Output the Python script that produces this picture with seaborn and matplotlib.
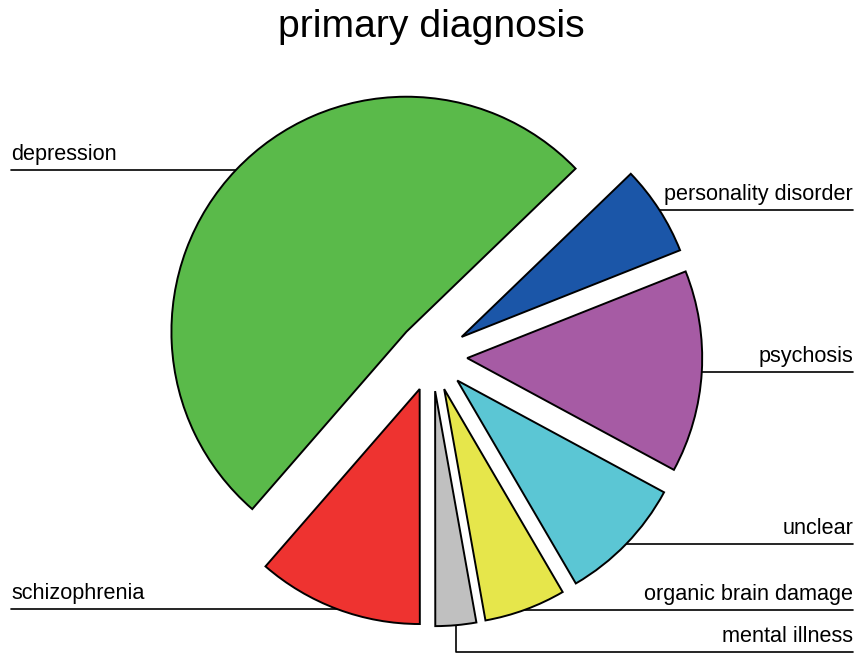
import numpy as np
import matplotlib
matplotlib.use("Agg")
import matplotlib.pyplot as plt
import seaborn as sns

# data (share of patients, %)
diagnoses = ["depression", "personality disorder", "psychosis", "unclear",
             "organic brain damage", "mental illness", "schizophrenia"]
shares = [51.4, 6.2, 13.9, 8.7, 5.6, 2.8, 11.4]
colours = ["#5aba4a", "#1b56a8", "#a65ba4", "#5bc6d4", "#e6e64b", "#c0c0c0", "#ee3330"]

sns.set_theme(style="white")
plt.rcParams["font.family"] = ["Liberation Sans", "DejaVu Sans"]
plt.rcParams["text.color"] = "black"

W, H = 855, 655
fig = plt.figure(figsize=(W / 100, H / 100), dpi=100)
ax = fig.add_axes([0, 0, 1, 1])

R = 235.0          # pie radius in pixels
cx, cy = 432, 356  # pie centre in pixels (from top)
explode = 0.15

wedges, _ = ax.pie(shares, colors=sns.color_palette(colours), startangle=229,
                   counterclock=False, explode=[explode] * len(shares),
                   wedgeprops=dict(edgecolor="black", linewidth=1.4))

xmin, xmax = -cx / R, (W - cx) / R
ymin, ymax = -(H - cy) / R, cy / R
ax.set_xlim(xmin, xmax)
ax.set_ylim(ymin, ymax)
ax.set_aspect("equal")
ax.axis("off")

left_x = xmin + 11 / R
right_x = xmax - 2 / R
gap = 10 / R
fs = 15.6

for w, name in zip(wedges, diagnoses):
    mid = np.deg2rad((w.theta1 + w.theta2) / 2)
    px = (1 + explode) * np.cos(mid)
    py = (1 + explode) * np.sin(mid)
    if name == "mental illness":
        # pushed below the organic brain damage label
        ly = ymin + 3 / R
        ax.plot([px, px, right_x], [py, ly, ly], color="black", lw=1.2, zorder=0)
        ax.text(right_x, ly + gap, name, ha="right", va="baseline", fontsize=fs)
    elif np.cos(mid) < 0:
        ax.plot([left_x, px], [py, py], color="black", lw=1.2, zorder=0)
        ax.text(left_x, py + gap, name, ha="left", va="baseline", fontsize=fs)
    else:
        ax.plot([px, right_x], [py, py], color="black", lw=1.2, zorder=0)
        ax.text(right_x, py + gap, name, ha="right", va="baseline", fontsize=fs)

fig.text(431.5 / W, 1 - 37 / H, "primary diagnosis", ha="center", va="baseline",
         fontsize=28.2)

fig.savefig("out.png", dpi=100, facecolor="white")
